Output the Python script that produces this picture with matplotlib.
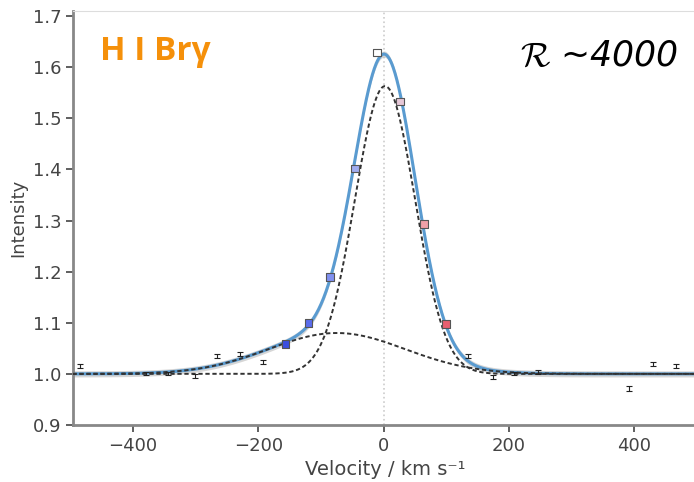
import numpy as np
import matplotlib
matplotlib.use("Agg")
import matplotlib.pyplot as plt

plt.rcParams['mathtext.fontset'] = 'cm'

# spectro-astrometry points (coloured by velocity)
vel_col = [-157, -120, -86, -46, -11, 26, 64, 99]
int_col = [1.059, 1.100, 1.189, 1.402, 1.629, 1.533, 1.293, 1.098]
cols = ['#3b4fe0', '#5a6cec', '#8090f0', '#a0acf0', '#ffffff', '#e6c8d8', '#f0a0a8', '#e86070']

# small continuum points with error bars
vel_pts = [-485, -380, -345, -301, -266, -230, -192, 134, 174, 208, 246, 392, 430, 466]
int_pts = [1.016, 1.000, 1.001, 0.996, 1.035, 1.039, 1.023, 1.035, 0.994, 1.000, 1.004, 0.971, 1.020, 1.015]
err_pts = [0.004, 0.003, 0.003, 0.004, 0.004, 0.004, 0.004, 0.004, 0.004, 0.003, 0.004, 0.005, 0.004, 0.004]

# two gaussian fit components (amplitude, centre, sigma)
narrow = (0.563, 2.0, 48.0)
broad = (0.080, -75.0, 109.0)

v = np.linspace(-500, 500, 1001)
def gauss(x, p):
    a, mu, s = p
    return a * np.exp(-(x - mu) ** 2 / (2 * s ** 2))

g_n = 1 + gauss(v, narrow)
g_b = 1 + gauss(v, broad)
total = g_n + g_b - 1

fig = plt.figure(figsize=(6.94, 4.82), dpi=100)
ax = fig.add_axes([73/694, 57/482, 624/694, 414/482])

ax.axvline(0, color='#cccccc', ls=':', lw=1.2, zorder=0)
ax.fill_between(v, total - 0.006, total + 0.006, color='#bbbbbb', alpha=0.6, lw=0, zorder=1)
ax.plot(v, total, color='#5a9bd0', lw=2.2, zorder=2)
ax.plot(v, g_n, color='#333333', ls='--', lw=1.4, dashes=(2.2, 1.4), zorder=3)
ax.plot(v, g_b, color='#333333', ls='--', lw=1.4, dashes=(2.2, 1.4), zorder=3)

ax.errorbar(vel_pts, int_pts, yerr=err_pts, fmt='none', ecolor='#222222',
            elinewidth=0.8, capsize=2, capthick=0.8, zorder=4)
ax.scatter(vel_col, int_col, c=cols, marker='s', s=30, edgecolors='#555555',
           linewidths=0.8, zorder=5)

ax.set_xlim(-496, 500)
ax.set_ylim(0.9, 1.71)
ax.set_xticks([-400, -200, 0, 200, 400])
ax.set_yticks([0.9, 1.0, 1.1, 1.2, 1.3, 1.4, 1.5, 1.6, 1.7])
ax.set_xticklabels(['\u2212400', '\u2212200', '0', '200', '400'])
ax.tick_params(labelsize=13, colors='#444444', length=5, width=1.2)

for s in ['left', 'bottom']:
    ax.spines[s].set_color('#888888')
    ax.spines[s].set_linewidth(2)
ax.spines['top'].set_color('#dddddd')
ax.spines['right'].set_visible(False)

ax.set_xlabel('Velocity / km s\u207b\u00b9', fontsize=14, color='#444444')
ax.set_ylabel('Intensity', fontsize=13, color='#444444')

fig.text(100/694, 1 - 60/482, 'H I Br\u03b3', color='#f5900a', fontsize=24,
         fontweight='bold', family=['Open Sans', 'DejaVu Sans'])
fig.text(520/694, 1 - 66/482, r'$\mathcal{R}$ ~4000', color='black', fontsize=25,
         fontstyle='italic')

fig.savefig('out.png', dpi=100)
